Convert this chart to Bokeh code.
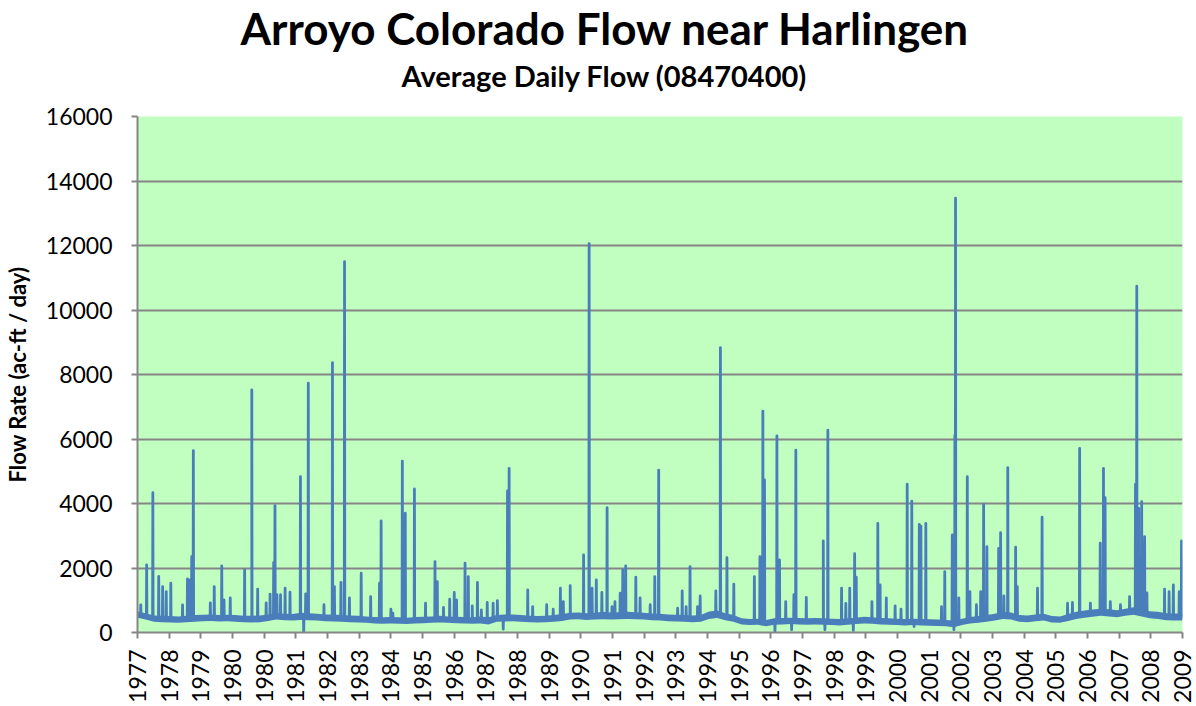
import math
from bokeh.plotting import figure
from bokeh.models import Range1d, FixedTicker, Title, ColumnDataSource
from bokeh.embed import file_html
from bokeh.resources import INLINE

# ---------------- data ----------------
title_text = "Arroyo Colorado Flow near Harlingen"
subtitle_text = "Average Daily Flow (08470400)"
y_label = "Flow Rate (ac-ft / day)"

tick_labels = ["1977", "1978", "1979", "1980", "1980", "1981", "1982", "1983",
               "1984", "1985", "1986", "1987", "1988", "1989", "1990", "1991",
               "1992", "1993", "1994", "1995", "1996", "1997", "1998", "1999",
               "2000", "2001", "2002", "2003", "2004", "2005", "2006", "2007",
               "2008", "2009"]

# baseline flow, one reading per quarter year, 1977.00 ... 2009.00
base_start = 1977.0
base_flow = [
    560, 500, 430, 420,   # 1977
    410, 400, 420, 430,   # 1978
    450, 460, 440, 450,   # 1979
    430, 420, 410, 420,   # 1980
    460, 500, 480, 470,   # 1981
    500, 490, 470, 450,   # 1982
    440, 430, 420, 410,   # 1983
    400, 380, 370, 380,   # 1984
    370, 360, 380, 390,   # 1985
    400, 410, 400, 390,   # 1986
    380, 370, 390, 360,   # 1987
    430, 440, 450, 430,   # 1988
    420, 410, 420, 430,   # 1989
    460, 500, 510, 490,   # 1990
    500, 520, 510, 520,   # 1991
    530, 520, 500, 480,   # 1992
    470, 450, 440, 430,   # 1993
    420, 430, 520, 560,   # 1994
    480, 430, 340, 320,   # 1995
    330, 280, 340, 350,   # 1996
    360, 350, 340, 350,   # 1997
    340, 330, 320, 340,   # 1998
    360, 380, 370, 350,   # 1999
    340, 330, 320, 330,   # 2000
    320, 310, 300, 290,   # 2001
    260, 330, 380, 400,   # 2002
    430, 470, 520, 500,   # 2003
    430, 420, 450, 470,   # 2004
    410, 400, 460, 520,   # 2005
    560, 590, 620, 600,   # 2006
    570, 620, 650, 600,   # 2007
    540, 520, 480, 470,   # 2008
    470,                  # 2009
]
# upper and lower edge of the day-to-day scatter band, same quarter-year readings
base_high = [
    650, 600, 530, 520,  510, 500, 520, 540,  550, 560, 540, 550,  540, 520, 520, 530,
    560, 600, 580, 570,  610, 600, 580, 560,  560, 540, 530, 520,  500, 480, 470, 480,
    470, 460, 480, 490,  500, 520, 500, 490,  480, 470, 500, 470,  540, 560, 560, 540,
    520, 510, 520, 540,  570, 610, 620, 600,  610, 640, 620, 630,  640, 630, 610, 590,
    580, 560, 550, 540,  530, 540, 650, 680,  600, 540, 440, 420,  430, 390, 440, 450,
    460, 450, 440, 450,  440, 430, 420, 440,  460, 490, 470, 450,  440, 430, 420, 430,
    420, 410, 400, 390,  370, 430, 480, 510,  540, 580, 640, 620,  540, 530, 560, 580,
    510, 500, 570, 640,  680, 710, 740, 720,  690, 740, 780, 720,  660, 640, 600, 590,
    590,
]
base_low = [
    460, 400, 330, 320,  310, 300, 320, 330,  350, 360, 340, 350,  330, 320, 310, 320,
    360, 400, 380, 370,  390, 380, 370, 350,  340, 330, 320, 310,  300, 280, 270, 280,
    270, 260, 280, 290,  300, 310, 300, 290,  280, 270, 280, 250,  330, 340, 350, 330,
    320, 310, 320, 330,  360, 400, 410, 390,  400, 410, 400, 410,  420, 410, 400, 380,
    370, 350, 340, 330,  320, 330, 420, 450,  380, 330, 250, 230,  240, 190, 240, 250,
    260, 250, 240, 250,  240, 230, 220, 240,  260, 280, 270, 250,  240, 230, 220, 230,
    220, 210, 200, 190,  160, 230, 280, 300,  330, 370, 420, 400,  330, 320, 350, 370,
    310, 300, 360, 420,  460, 490, 520, 500,  470, 520, 550, 500,  440, 420, 380, 370,
    370,
]

# daily peaks (and low dips): date (decimal year) and flow
event_year = [
    1977.10, 1977.28, 1977.47, 1977.65, 1977.77, 1977.88, 1978.02, 1978.38,
    1978.53, 1978.61, 1978.66, 1978.71, 1979.23, 1979.35, 1979.58, 1979.65,
    1979.84, 1980.28, 1980.50, 1980.68, 1980.94, 1981.06, 1981.17, 1981.21,
    1981.27, 1981.38, 1981.52, 1981.67, 1981.99, 1982.09, 1982.15, 1982.23,
    1982.71, 1982.97, 1983.03, 1983.23, 1983.34, 1983.49, 1983.85, 1984.14,
    1984.41, 1984.46, 1984.76, 1984.82, 1985.11, 1985.20, 1985.48, 1985.82,
    1986.11, 1986.18, 1986.37, 1986.56, 1986.70, 1986.77, 1987.03, 1987.13,
    1987.25, 1987.41, 1987.53, 1987.71, 1987.89, 1988.02, 1988.20, 1988.33,
    1988.38, 1988.95, 1989.10, 1989.53, 1989.73, 1989.95, 1990.04, 1990.25,
    1990.66, 1990.83, 1990.92, 1991.05, 1991.22, 1991.38, 1991.53, 1991.62,
    1991.78, 1991.86, 1991.95, 1992.26, 1992.39, 1992.70, 1992.84, 1992.96,
    1993.54, 1993.68, 1993.80, 1993.92, 1994.15, 1994.23, 1994.71, 1994.85,
    1995.05, 1995.26, 1995.89, 1996.06, 1996.15, 1996.20, 1996.52, 1996.58,
    1996.66, 1996.85, 1997.03, 1997.10, 1997.16, 1997.48, 1998.00, 1998.05,
    1998.14, 1998.56, 1998.69, 1998.81, 1998.92, 1998.96, 1999.01, 1999.49,
    1999.67, 1999.74, 1999.93, 2000.20, 2000.38, 2000.57, 2000.71, 2000.78,
    2000.94, 2000.99, 2001.14, 2001.62, 2001.72, 2001.95, 2002.00, 2002.03,
    2002.05, 2002.15, 2002.41, 2002.49, 2002.69, 2002.82, 2002.91, 2003.01,
    2003.37, 2003.43, 2003.53, 2003.65, 2003.89, 2003.94, 2004.56, 2004.70,
    2005.48, 2005.63, 2005.85, 2006.18, 2006.48, 2006.58, 2006.63, 2006.79,
    2007.10, 2007.38, 2007.56, 2007.60, 2007.66, 2007.75, 2007.84, 2007.91,
    2008.45, 2008.59, 2008.72, 2008.90, 2008.97,
]
event_flow = [
    858, 2100, 4335, 1736, 1425, 1270, 1530, 858,
    1660, 1630, 2350, 5640, 920, 1425, 2065, 1010,
    1075, 1940, 7520, 1345, 920, 1190, 2170, 3937,
    1170, 1170, 1375, 1250, 4836, 0, 1200, 7730,
    860, 8370, 1425, 1550, 11500, 1075, 1840, 1115,
    1530, 3458, 725, 600, 5316, 3697, 4450, 910,
    2200, 1580, 775, 1035, 1240, 1010, 2150, 1735,
    825, 1550, 700, 930, 910, 990, 105, 4390,
    5090, 1320, 805, 860, 725, 1375, 960, 1455,
    2405, 12060, 1375, 1630, 1240, 3870, 805, 960,
    1220, 1940, 2065, 1715, 1075, 860, 1735, 5037,
    755, 1290, 805, 2045, 805, 1135, 1290, 8835,
    2320, 1500, 1735, 2350, 6865, 4730, 30, 6100,
    2250, 960, 85, 1170, 5656, 1085, 2840, 85,
    6275, 1375, 900, 1375, 60, 2445, 1715, 960,
    3385, 1475, 1075, 825, 725, 4600, 4075, 185,
    3355, 3300, 3385, 805, 1890, 3025, 85, 6120,
    13470, 1075, 4830, 1270, 860, 1270, 3975, 2660,
    2610, 3095, 1135, 5110, 2645, 1425, 1375, 3575,
    910, 930, 5710, 910, 2770, 5090, 4180, 960,
    860, 1115, 4600, 10740, 3850, 4055, 2970, 1225,
    1345, 1270, 1475, 1270, 2840,
]

# ---------------- build the daily-like series ----------------
base_year = [base_start + 0.25 * i for i in range(len(base_flow))]
pts = list(zip(base_year, base_flow))
half_width = 0.008
for t, f in zip(event_year, event_flow):
    b = base_flow[min(len(base_flow) - 1, int(round((t - base_start) / 0.25)))]
    pts.append((t - half_width, b))
    pts.append((t, f))
    pts.append((t + half_width, b))
pts.sort(key=lambda q: q[0])
src = ColumnDataSource(data=dict(year=[q[0] for q in pts], flow=[q[1] for q in pts]))
band = ColumnDataSource(data=dict(year=base_year, lo=base_low, hi=base_high))

# ---------------- layout ----------------
W, H = 1196, 706
FRAME_L, FRAME_R, FRAME_T, FRAME_B = 136, 1182, 116, 632
X0, X1, Y0, Y1 = 1977, 2009, 0, 16000
BLUE = "#4A7EBB"
GRID = "#868686"
FONT = "Lato"

p = figure(width=W, height=H, x_range=Range1d(X0, X1), y_range=Range1d(Y0, Y1),
           output_backend="svg", toolbar_location=None,
           min_border_left=FRAME_L, min_border_right=W - FRAME_R,
           min_border_top=FRAME_T, min_border_bottom=H - FRAME_B)
p.background_fill_color = "#C0FFC0"
p.border_fill_color = "white"
p.outline_line_color = None

p.varea(x="year", y1="lo", y2="hi", source=band, fill_color=BLUE, fill_alpha=1.0)
p.line("year", "flow", source=src, line_color=BLUE, line_width=2.8, line_join="round")

# titles: stacked above the frame (first added sits nearest the frame)
p.add_layout(Title(text=" ", text_font=FONT, text_font_size="10px", standoff=6), "above")
p.add_layout(Title(text=subtitle_text, align="left", offset=264, vertical_align="top",
                   text_font=FONT, text_font_size="29px", text_font_style="bold",
                   text_color="black", standoff=4), "above")
p.add_layout(Title(text=title_text, align="left", offset=103, vertical_align="top",
                   text_font=FONT, text_font_size="44px", text_font_style="bold",
                   text_color="black", standoff=0), "above")

# axes
ticks_x = [round(X0 + k * (X1 - X0) / (len(tick_labels) - 1), 6) for k in range(len(tick_labels))]
p.xaxis.ticker = FixedTicker(ticks=ticks_x)
p.xaxis.major_label_overrides = {t: lab for t, lab in zip(ticks_x, tick_labels)}
p.xaxis.major_label_orientation = math.pi / 2
p.yaxis.ticker = FixedTicker(ticks=list(range(0, 16001, 2000)))

for ax in (p.xaxis[0], p.yaxis[0]):
    ax.axis_line_color = GRID
    ax.axis_line_width = 2
    ax.major_tick_line_color = GRID
    ax.major_tick_line_width = 2
    ax.major_tick_out = 6
    ax.major_tick_in = 0
    ax.minor_tick_line_color = None
    ax.major_label_text_font = FONT
    ax.major_label_text_font_size = "23px"
    ax.major_label_text_color = "black"
p.yaxis.major_label_standoff = 19
p.xaxis.major_label_standoff = 11

p.yaxis.axis_label = y_label
p.yaxis.axis_label_text_font = FONT
p.yaxis.axis_label_text_font_size = "22px"
p.yaxis.axis_label_text_font_style = "bold"
p.yaxis.axis_label_text_color = "black"
p.yaxis.axis_label_standoff = 12

p.xgrid.grid_line_color = None
p.ygrid.grid_line_color = GRID
p.ygrid.grid_line_width = 2

open("out.html", "w").write(file_html(p, INLINE))
